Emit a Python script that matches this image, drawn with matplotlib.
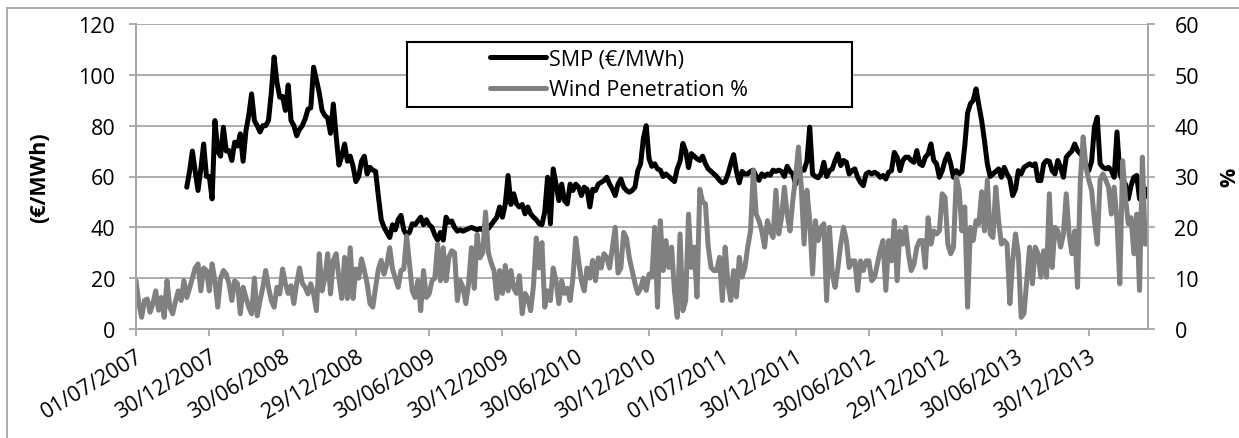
import numpy as np
import matplotlib
matplotlib.use("Agg")
import matplotlib.pyplot as plt
from matplotlib.patches import Rectangle
from matplotlib.lines import Line2D

plt.rcParams['font.family'] = ['Open Sans', 'DejaVu Sans']

# weekly series, week 0 = 01/07/2007
smp_start = 18
smp = [55.8, 62, 70, 62, 54.5, 63, 72.8, 60, 60, 51.2,
       82, 70, 68, 79.4, 70, 70.2, 66.3, 73.5, 72, 76.8,
       66, 78, 84, 92.5, 82, 80, 77.5, 80, 80, 82,
       93, 107, 97, 91.2, 91.5, 86, 96, 82, 80, 76,
       78.5, 80,
       82.6, 86.5, 87, 103, 98, 93, 86, 84, 83, 77,
       88.5, 76, 64.5, 68, 72.8, 66, 68, 64, 58, 60,
       66, 68, 61, 63.6, 62.5, 62, 52, 43, 40, 38,
       36, 41, 39, 43, 44.7, 39, 37, 38, 41.4, 41,
       42.5, 44, 41, 43, 41, 40, 37, 35, 38, 35,
       44, 42, 42.5, 40, 38.5, 39, 38.5, 39, 39.5, 40,
       39.5, 39, 39.5, 39, 41.4, 39.5, 41, 42.5, 44, 48,
       44, 49.2, 60.4, 49, 53.2, 49.2, 48, 49, 45.3, 48,
       45.3, 44, 43, 41.4, 41, 46, 59.7, 41.4, 63, 57,
       50.5, 57, 50.5, 49.2, 57, 54.5, 57, 55.8, 52.5, 55.8,
       55, 48, 55, 54.5, 57, 57.7, 58.4, 59.7, 57, 55,
       52.5, 57, 59, 55.8, 54.5, 53.8, 54.5, 55.8, 62.3, 65,
       75, 80, 67, 64, 65, 63, 62.5, 60, 61, 60,
       59, 58, 63, 66, 73, 70, 63.5, 69, 68, 67,
       66.3, 68, 65, 63, 62, 61, 60, 58.5, 57.5, 58,
       61, 65, 68.6, 62, 57.5, 62, 61, 61, 62, 62.5,
       60, 58.5, 61, 60, 61, 60.5, 62.5, 62, 62.5, 62,
       60, 64, 62, 61, 57, 61, 62.5, 62.5, 66, 79.4,
       61, 60, 59.5, 61, 65.6, 60, 62.3, 63, 66.3, 68.9,
       64.3, 66.3, 65.6, 61, 62.3, 63, 59.7, 57.7, 56.4, 61,
       61.7, 61, 61.7, 61, 59.7, 60.4, 59, 61.7, 62.3, 69.5,
       67.6, 62.3, 66.3, 67.6, 67.6, 66.3, 65.6, 70.2, 65, 64.3,
       67.6, 68.9, 72.8, 66.3, 65, 59.7, 62.3, 66.3, 68.9, 65,
       59.7, 62.3, 61, 62, 72, 85, 88.6, 90, 94.5, 88,
       82, 74, 65, 60, 61, 62, 63, 59.7, 63.6, 61,
       59, 52.5, 55, 62.3, 61, 63.6, 64.3, 65, 64.3, 65,
       58.4, 58.4, 65, 66.3, 66, 62.3, 61, 66.3, 63.6, 59.7,
       67.6, 68.9, 70, 72.8, 70.2, 68.9, 67.6, 64.3, 62.3, 66,
       79.4, 83.3, 65, 63.6, 63, 63.6, 62.3, 59.7, 77.5, 61,
       58.4, 57, 51.2, 56.4, 59.7, 60.4, 51.2, 56.4, 55, 52]

wind = [9.5, 5, 2.3, 5.6, 5.9, 3.3, 5, 7.5, 3.7, 6.2,
        2.3, 9.5, 4.3, 3, 5.5, 7.5, 5.6, 9.5, 6.2, 8,
        10, 12, 12.8, 7.5, 12, 11.5, 7.5, 12.8, 9.5, 4.3,
        10, 11.5, 10.8, 8.9, 5.6, 9.5, 8.9, 3, 8.2, 6.2,
        4.3, 3, 10, 2.6, 5.6, 8.2, 11.5, 8.2, 5.6, 4.3,
        8.2, 6.9, 11.8, 8.9, 7, 8.5, 5, 9, 12, 9,
        8.2, 6.9, 8.9, 6.9, 3.6, 14.8, 7.5, 10, 14.8, 6.9,
        13.5, 14.8, 10, 6, 14.1, 6, 16, 6, 11.8, 10,
        13.8, 11.5, 8.9, 5, 4.3, 8.2, 11.8, 13.5, 10.8, 12.8,
        16, 11.8, 10, 8.2, 11.5, 11.8, 18.3, 12.8, 7.5, 6.2,
        9.5, 3.6, 11.5, 6.2, 6.9, 9.5, 10, 16.7, 9.5, 16,
        9.5, 14.1, 15.4, 15, 5.6, 9.5, 8.2, 5, 9, 16,
        8, 18.6, 14, 15, 23, 15, 13, 11.5, 6, 11.5,
        7, 12.5, 7.5, 11.5, 8, 7, 10.5, 3, 7, 6,
        3.6, 8.5, 17.9, 12, 17, 4.3, 7.5, 5.6, 12, 9.5,
        5, 9.5, 7, 8, 5.6, 10, 17.9, 13.5, 9.5, 7.5,
        12, 10, 13.5, 9.5, 14, 12, 14.8, 14.1, 12, 16,
        20, 11, 12, 19, 17.9, 14, 11.5, 9, 7, 8,
        10, 7.6, 10.8, 10.2, 20, 4.3, 21.3, 11.5, 17.4, 12.1,
        16.1, 7.6, 2.3, 18.7, 3.6, 5.6, 22.6, 12.1, 16.1, 6.3,
        27.5, 25, 24.6, 16.1, 12.1, 11.5, 11.5, 14.1, 5.6, 16.1,
        8.9, 5.6, 11.5, 6.3, 14.1, 10.2, 12.1, 16.1, 19.3, 31.2,
        22.6, 21.3, 19.3, 16.1, 21.3, 19.3, 18, 27.3, 18.7, 21.9,
        27.9, 22.6, 19.3, 25.3, 29.9, 35.8, 27.9, 16.7, 27.3, 21.3,
        10.8, 21.3, 17.4, 20, 20.7, 5.6, 20, 10.8, 8.2, 12.1,
        16.7, 20, 17.4, 12.1, 13.4, 13.4, 7.6, 13.4, 11.5, 13.4,
        13.4, 9.5, 10.2, 12.8, 15.4, 17.4, 7.6, 17.4, 13.4, 21.3,
        9.5, 19.3, 16.7, 20, 14.8, 11.5, 12.8, 16.1, 17.4, 17.4,
        12.1, 21.9, 16.7, 19.3, 18.7, 19.3, 26.6, 25.9, 16.7, 14.8,
        16.1, 29.9, 27.3, 19.3, 24, 4.3, 20, 17.4, 21.3, 20.7,
        27, 19.3, 29.3, 18.7, 18, 27.9, 21.3, 16.7, 17.4, 16.7,
        5, 13.4, 18.7, 14.8, 2.3, 3, 9.5, 16.1, 8.9, 16.1,
        14.8, 10.2, 15.4, 10.2, 26.6, 12.1, 20, 19.3, 16.1, 18.7,
        26.6, 18.7, 14.8, 19.3, 8.2, 29.3, 37.8, 31.8, 29.3, 27.3,
        21.3, 16.7, 29.3, 30.5, 29.3, 27.9, 22.6, 27.9, 21.3, 8.9,
        33.1, 25.9, 20.7, 21.9, 14.8, 22.6, 7.6, 33.8, 16.7, 16.7]

tick_labels = ["01/07/2007", "30/12/2007", "30/06/2008", "29/12/2008",
               "30/06/2009", "30/12/2009", "30/06/2010", "30/12/2010",
               "01/07/2011", "30/12/2011", "30/06/2012", "29/12/2012",
               "30/06/2013", "30/12/2013"]

W, H = 1239, 439
grid_c = '#A6A6A6'
fs = 15.5

fig = plt.figure(figsize=(W / 100, H / 100), dpi=100)
ax = fig.add_axes([136 / W, 1 - 330 / H, (1148 - 136) / W, (330 - 25) / H])
ax2 = ax.twinx()

x_wind = np.arange(len(wind))
x_smp = np.arange(smp_start, smp_start + len(smp))

l1, = ax.plot(x_smp, smp, color='black', lw=3.6, solid_joinstyle='round',
              solid_capstyle='round', label='SMP (€/MWh)')
l2, = ax2.plot(x_wind, wind, color='#808080', lw=3.6, solid_joinstyle='round',
               solid_capstyle='round', label='Wind Penetration %')

ax.set_xlim(0, len(wind) - 1)
ax.set_ylim(0, 120)
ax2.set_ylim(0, 60)
ax.set_yticks(np.arange(0, 121, 20))
ax2.set_yticks(np.arange(0, 61, 10))
ax.set_xticks(np.arange(len(tick_labels)) * 26)
ax.set_xticklabels(tick_labels, rotation=31, ha='right', va='top',
                   rotation_mode='anchor', fontsize=fs - 0.5)

ax.grid(axis='y', color=grid_c, lw=1.3)
ax.set_axisbelow(True)
for a in (ax, ax2):
    for s in a.spines.values():
        s.set_color(grid_c)
        s.set_linewidth(1.3)
    a.spines['top'].set_visible(False)
    a.tick_params(colors=grid_c, labelcolor='black', labelsize=fs,
                  length=5, width=1.3)
ax.tick_params(axis='y', pad=10)
ax.tick_params(axis='x', pad=7)
ax2.tick_params(axis='y', pad=14)

ax.set_ylabel('(€/MWh)', fontsize=fs, fontweight='bold', labelpad=20)
ax2.set_ylabel('%', fontsize=fs, fontweight='bold', labelpad=15)

# legend box
box = Rectangle((407 / W, 1 - 108 / H), 445 / W, 65 / H, transform=fig.transFigure,
                facecolor='white', edgecolor='black', lw=1.5, zorder=8, clip_on=False)
ax2.add_patch(box)
leg = ax2.legend(handles=[l1, l2], loc='upper left',
                 bbox_to_anchor=(490 / W, 1 - 50 / H), bbox_transform=fig.transFigure,
                 frameon=False, fontsize=fs, handlelength=2.6, handletextpad=0.15,
                 borderpad=0, borderaxespad=0, labelspacing=0.42)
leg.set_zorder(10)

# chart area border (top and left edges)
fig.add_artist(Line2D([7 / W, 1], [1 - 9 / H, 1 - 9 / H], transform=fig.transFigure,
                      color=grid_c, lw=1.3))
fig.add_artist(Line2D([7 / W, 7 / W], [0, 1 - 9 / H], transform=fig.transFigure,
                      color=grid_c, lw=1.3))

fig.savefig('out.png', dpi=100)
